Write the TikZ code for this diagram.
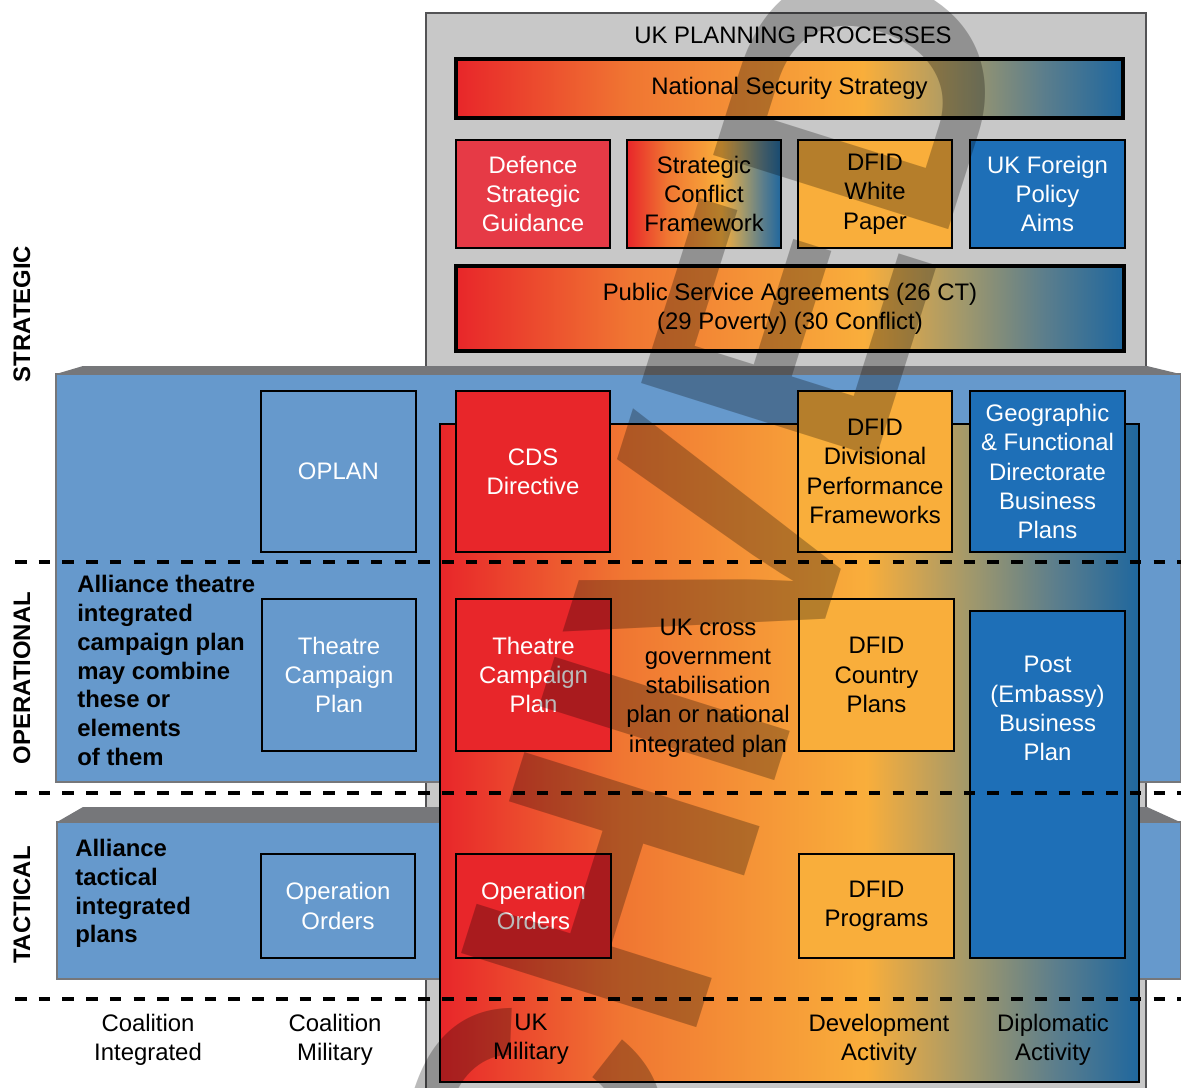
\documentclass[tikz,border=0pt]{standalone}
\usepackage{fontspec}
\setmainfont{Liberation Sans}
\usepackage{tikz}
\usetikzlibrary{arrows,shapes,positioning}
\usepackage{xcolor}
\definecolor{ukred}{RGB}{232,38,42}
\definecolor{ukpink}{RGB}{230,58,70}
\definecolor{ukorange}{RGB}{249,174,59}
\definecolor{ukblue}{RGB}{30,111,183}
\definecolor{ukband}{RGB}{102,153,204}
\definecolor{uklightgray}{RGB}{200,200,200}
\definecolor{ukdarkgray}{RGB}{118,119,122}
\definecolor{gradred}{RGB}{232,38,42}
\definecolor{gradorange}{RGB}{240,118,50}
\definecolor{gradyellow}{RGB}{249,174,59}
\definecolor{gradolive}{RGB}{160,152,108}
\definecolor{gradteal}{RGB}{92,126,140}
\definecolor{gradblue}{RGB}{31,103,158}
\pgfdeclarehorizontalshading{ukgrad}{100bp}{color(0bp)=(gradred); color(25bp)=(gradred); color(38bp)=(gradorange); color(55.5bp)=(gradyellow); color(63bp)=(gradolive); color(69bp)=(gradteal); color(75bp)=(gradblue); color(100bp)=(gradblue)}
\tikzstyle{plan} = [rectangle, draw=black, line width=1.1pt, text centered, align=center, inner sep=0pt, font=\fontsize{13.6}{16.7}\selectfont]
\tikzstyle{redplan} = [plan, fill=ukred, text=white]
\tikzstyle{blueplan} = [plan, fill=ukblue, text=white]
\tikzstyle{orangeplan} = [plan, fill=ukorange, text=black]
\tikzstyle{allianceplan} = [plan, fill=ukband, text=white]
\tikzstyle{gradplan} = [plan, line width=1.8pt, shading=ukgrad, text=black]
\tikzstyle{band} = [fill=ukband, draw=ukdarkgray, line width=0.6pt]
\tikzstyle{bandtop} = [fill=ukdarkgray]
\tikzstyle{levelline} = [line width=2.3pt, dash pattern=on 6.6pt off 6.9pt]
\tikzstyle{levellabel} = [rotate=90, font=\fontsize{13.6}{17}\selectfont\bfseries, inner sep=0pt]
\tikzstyle{note} = [align=center, inner sep=0pt, font=\fontsize{13.6}{16.6}\selectfont]
\tikzstyle{watermark} = [inner sep=0pt, text=black, text opacity=0.27, font=\fontsize{204}{204}\selectfont\bfseries]

\begin{document}
\begin{tikzpicture}[x=0.02cm, y=-0.02cm]
\useasboundingbox (0,0) rectangle (1181,1088);
\clip (0,0) rectangle (1181,1088);

% UK planning processes frame
\draw[fill=uklightgray, draw=ukdarkgray!70!black, line width=1pt] (426,13) rectangle (1146,1100);
\node[note] (title) at (793,35) {UK PLANNING PROCESSES};

% Operational and tactical bands
\fill[bandtop] (56,374) -- (83,366) -- (1147,366) -- (1180,374) -- cycle;
\draw[band] (56,374) rectangle (1181,782);
\fill[bandtop] (57,822) -- (83,807) -- (1147,807) -- (1180,822) -- cycle;
\draw[band] (57,822) rectangle (1181,979);

% Cross government block
\draw[shading=ukgrad, draw=black, line width=1pt] (440,424) rectangle (1139,1082);

% Strategic level
\node[gradplan, minimum width=13.34cm, minimum height=1.18cm] (nss) at (789.5,88.5) {National Security Strategy};
\node[plan, fill=ukpink, text=white, minimum width=3.08cm, minimum height=2.16cm] (dsg) at (533,194) {Defence\\Strategic\\Guidance};
\node[plan, shading=ukgrad, minimum width=3.08cm, minimum height=2.16cm] (scf) at (704,194) {Strategic\\Conflict\\Framework};
\node[orangeplan, minimum width=3.08cm, minimum height=2.16cm] (dwp) at (875,194) {DFID\\White\\Paper};
\node[blueplan, minimum width=3.1cm, minimum height=2.16cm] (fpa) at (1047.5,194) {UK Foreign\\Policy\\Aims};
\node[gradplan, minimum width=13.36cm, minimum height=1.7cm] (psa) at (790,308.5) {Public Service Agreements (26 CT)\\(29 Poverty) (30 Conflict)};

% Upper operational row
\node[allianceplan, minimum width=3.1cm, minimum height=3.22cm] (oplan) at (338.5,471.5) {OPLAN};
\node[redplan, minimum width=3.08cm, minimum height=3.22cm] (cds) at (533,471.5) {CDS\\Directive};
\node[orangeplan, minimum width=3.08cm, minimum height=3.22cm] (dpf) at (875,471.5) {DFID\\Divisional\\Performance\\Frameworks};
\node[blueplan, minimum width=3.1cm, minimum height=3.22cm] (gfd) at (1047.5,471.5) {Geographic\\\& Functional\\Directorate\\Business\\Plans};

% Lower operational row
\node[note, align=left, anchor=west, font=\fontsize{13.6}{16.4}\selectfont\bfseries] (atc) at (77,670.5) {Alliance theatre\\integrated\\campaign plan\\may combine\\these or\\elements\\of them};
\node[allianceplan, minimum width=3.08cm, minimum height=3.04cm] (tcpa) at (339,675) {Theatre\\Campaign\\Plan};
\node[redplan, minimum width=3.1cm, minimum height=3.04cm] (tcp) at (533.5,675) {Theatre\\Campaign\\Plan};
\node[note] (xgov) at (708,688) {UK cross\\government\\stabilisation\\plan or national\\integrated plan};
\node[orangeplan, minimum width=3.1cm, minimum height=3.04cm] (dcp) at (876.5,675) {DFID\\Country\\Plans};
\node[blueplan, minimum width=3.1cm, minimum height=6.94cm] (post) at (1047.5,784.5) {};
\node[note, text=white] (posttext) at (1047.5,708.5) {Post\\(Embassy)\\Business\\Plan};

% Tactical row
\node[note, align=left, anchor=west, font=\fontsize{13.6}{16.4}\selectfont\bfseries] (atp) at (75,893.5) {Alliance\\tactical\\integrated\\plans};
\node[allianceplan, minimum width=3.08cm, minimum height=2.08cm] (ooa) at (338,906) {Operation\\Orders};
\node[redplan, minimum width=3.1cm, minimum height=2.08cm] (oo) at (533.5,906) {Operation\\Orders};
\node[orangeplan, minimum width=3.1cm, minimum height=2.08cm] (dprog) at (876.5,906) {DFID\\Programs};

% Level separators
\draw[levelline] (15,562) -- (1181,562);
\draw[levelline] (15,793) -- (1181,793);
\draw[levelline] (15,999) -- (1181,999);

% Level labels
\node[levellabel] (strategic) at (22,314) {STRATEGIC};
\node[levellabel] (operational) at (22,678) {OPERATIONAL};
\node[levellabel] (tactical) at (22,905) {TACTICAL};

% Activity labels
\node[note] (coalint) at (148,1039.5) {Coalition\\Integrated};
\node[note] (coalmil) at (335,1039.5) {Coalition\\Military};
\node[note] (ukmil) at (531,1039.5) {UK\\Military};
\node[note] (devact) at (879,1039.5) {Development\\Activity};
\node[note] (dipact) at (1053,1039.5) {Diplomatic\\Activity};

% Watermark
\node[watermark, rotate=72.5, anchor=base west] (archived) at (456,1791) {ARCHIVED};
\end{tikzpicture}
\end{document}
